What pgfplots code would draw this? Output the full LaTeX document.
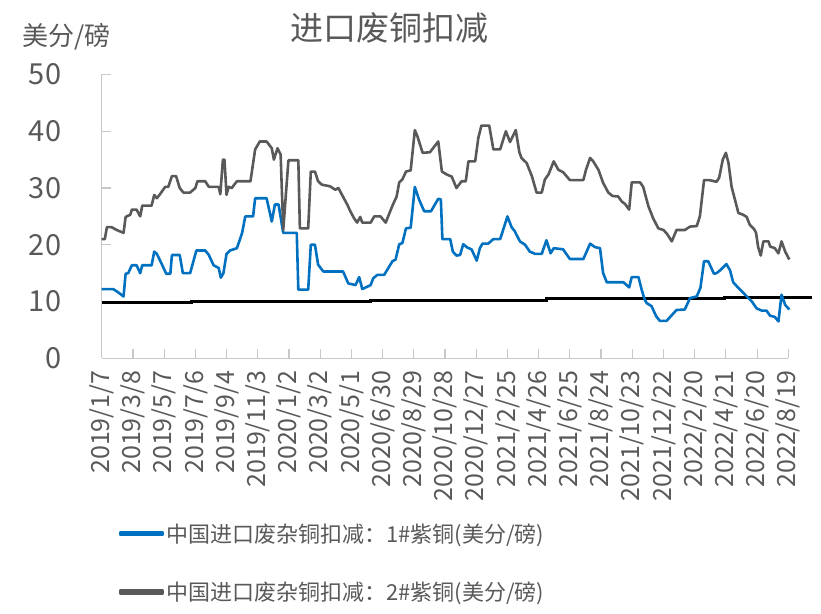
\documentclass[border=0pt]{standalone}
\usepackage{fontspec}
\usepackage{pgfplots}
\pgfplotsset{compat=1.18}
\setmainfont{Noto Sans CJK SC}
\definecolor{txt}{HTML}{595959}
\definecolor{sblue}{HTML}{0070C0}
\definecolor{sgray}{HTML}{595959}
\definecolor{axgray}{HTML}{C8C8C8}
\begin{document}
\begin{tikzpicture}[x=1pt,y=1pt]
\path[use as bounding box] (0,0) rectangle (821,613);
\begin{axis}[
 at={(101.7pt,254.7pt)}, anchor=south west,
 scale only axis, width=686.6pt, height=283.8pt,
 xmin=0, xmax=1320, ymin=0, ymax=50,
 axis x line=bottom, axis y line=left,
 axis line style={axgray, line width=1.2pt, -},
 tick style={axgray, line width=1.2pt}, tick align=inside, major tick length=9pt,
 ytick={0,10,...,50},
 xtick={0,60,...,1320},
 xticklabels={2019/1/7,2019/3/8,2019/5/7,2019/7/6,2019/9/4,2019/11/3,2020/1/2,2020/3/2,2020/5/1,2020/6/30,2020/8/29,2020/10/28,2020/12/27,2021/2/25,2021/4/26,2021/6/25,2021/8/24,2021/10/23,2021/12/22,2022/2/20,2022/4/21,2022/6/20,2022/8/19},
 xticklabel style={rotate=90, anchor=east, font=\fontsize{25}{25}\selectfont, text=txt},
 xticklabel shift=9pt,
 yticklabel style={anchor=east, font=\fontsize{29}{29}\selectfont, text=txt, xshift=-37pt},
 /pgf/number format/assume math mode=true,
 clip=false,
 legend style={at={(axis description cs:0.0245,-0.575)}, anchor=north west, draw=none, fill=none,
   font=\fontsize{22}{22}\selectfont, text=txt, row sep=34pt, inner sep=0pt, nodes={inner sep=2pt}},
 legend cell align=left,
 legend image code/.code={\fill[#1] (0pt,-1.3pt) rectangle (43pt,1.3pt);},
]
\addplot[black, line width=3pt, forget plot] coordinates {
(0,9.8) (173,9.8) (173,10.0) (516,10.0) (516,10.2) (856,10.2) (856,10.5) (1197,10.5) (1197,10.75) (1365,10.75)};
\addplot[sblue, line width=2.6pt, line join=round] coordinates {
(0,12.2) (22,12.2) (32,11.6) (42,10.9) (46,14.9) (51,15.0) (58,16.4) (67,16.4) (74,15.0) (78,16.4) (96,16.4) (101,18.8) (106,18.4) (116,16.5) (124,14.9) (132,14.9) (135,18.2) (150,18.2) (156,15.0) (170,15.0) (182,19.0) (199,19.0) (206,18.2) (215,16.4) (225,15.9) (229,14.2) (234,15.0) (240,18.4) (247,19.0) (260,19.4) (270,22.1) (276,25.0) (291,25.0) (295,28.2) (317,28.2) (327,24.1) (333,27.1) (340,27.1) (349,22.1) (375,22.1) (378,12.1) (397,12.1) (402,20.0) (410,20.0) (416,16.5) (426,15.3) (464,15.3) (474,13.2) (488,12.9) (495,14.3) (501,12.2) (517,12.9) (522,14.1) (530,14.7) (543,14.7) (549,15.6) (559,17.1) (565,17.4) (572,20.1) (578,20.3) (585,22.9) (594,23.0) (602,30.2) (610,28.0) (620,25.9) (633,25.9) (647,28.1) (652,28.0) (655,21.0) (670,21.0) (675,18.8) (682,18.1) (689,18.2) (695,20.1) (703,19.5) (711,19.2) (721,17.2) (727,19.4) (732,20.2) (743,20.2) (753,21.0) (766,21.0) (771,22.4) (780,25.0) (788,23.1) (794,22.4) (804,20.6) (814,20.0) (823,18.8) (833,18.4) (846,18.4) (855,20.8) (863,18.5) (869,19.4) (887,19.2) (900,17.5) (926,17.5) (939,20.2) (948,19.6) (958,19.4) (964,15.0) (971,13.4) (1003,13.4) (1014,12.5) (1019,14.3) (1032,14.3) (1038,12.1) (1044,10.3) (1048,9.7) (1057,9.2) (1066,7.4) (1073,6.6) (1086,6.6) (1096,7.6) (1105,8.5) (1121,8.6) (1131,10.6) (1144,10.9) (1151,12.4) (1158,17.1) (1166,17.1) (1177,14.9) (1182,15.0) (1189,15.5) (1201,16.6) (1208,15.5) (1214,13.4) (1224,12.4) (1237,11.2) (1250,10.0) (1259,8.8) (1269,8.4) (1278,8.4) (1285,7.5) (1294,7.3) (1301,6.5) (1307,11.2) (1314,9.4) (1322,8.6)};
\addlegendentry{中国进口废杂铜扣减：1\#紫铜(美分/磅)}
\addplot[sgray, line width=2.6pt, line join=round] coordinates {
(0,21.0) (6,21.0) (10,23.1) (19,23.1) (29,22.6) (42,22.1) (46,24.9) (55,25.3) (58,26.2) (67,26.2) (74,25.0) (78,26.9) (96,26.9) (101,28.8) (106,28.2) (112,28.9) (122,30.2) (128,30.2) (135,32.1) (143,32.1) (150,30.0) (157,29.2) (170,29.2) (180,30.0) (184,31.2) (199,31.2) (206,30.2) (225,30.2) (228,28.9) (233,35.0) (236,35.0) (240,28.8) (244,30.2) (250,30.0) (260,31.2) (286,31.2) (295,36.8) (304,38.2) (317,38.2) (327,37.0) (331,35.0) (338,37.0) (344,35.9) (349,22.6) (359,34.9) (378,34.9) (381,22.9) (397,22.9) (402,32.9) (410,32.9) (416,31.2) (423,30.6) (439,30.3) (449,29.7) (455,30.0) (462,28.8) (472,27.1) (478,25.9) (485,24.7) (491,23.9) (497,24.9) (501,23.9) (517,23.9) (524,25.0) (536,25.0) (546,23.9) (552,25.3) (559,26.9) (567,28.5) (572,31.0) (578,31.5) (585,32.9) (594,33.1) (602,40.2) (607,39.1) (617,36.2) (631,36.3) (647,38.2) (654,32.9) (663,32.4) (673,32.0) (682,30.0) (692,31.2) (700,31.2) (705,34.7) (718,34.7) (724,38.8) (730,41.0) (745,41.0) (753,36.8) (766,36.8) (777,40.0) (785,38.1) (796,40.2) (803,36.3) (807,35.3) (817,34.4) (827,32.1) (836,29.2) (846,29.2) (852,31.5) (859,32.4) (869,34.7) (878,33.2) (887,32.8) (900,31.4) (926,31.4) (931,33.2) (939,35.3) (945,34.7) (955,33.2) (964,30.9) (974,29.2) (982,28.6) (993,28.5) (1000,27.6) (1006,27.2) (1014,26.2) (1019,31.0) (1035,31.0) (1041,30.2) (1051,26.8) (1060,24.7) (1070,22.9) (1080,22.6) (1087,21.9) (1096,20.6) (1105,22.6) (1121,22.6) (1131,23.2) (1144,23.3) (1150,25.0) (1158,31.4) (1168,31.4) (1182,31.1) (1187,31.8) (1194,35.0) (1200,36.2) (1205,34.4) (1211,30.2) (1219,27.4) (1224,25.6) (1233,25.3) (1240,24.9) (1246,23.5) (1254,22.8) (1258,22.1) (1262,19.6) (1267,18.1) (1272,20.6) (1282,20.6) (1285,19.7) (1294,19.4) (1301,18.5) (1307,20.6) (1314,18.8) (1322,17.4)};
\addlegendentry{中国进口废杂铜扣减：2\#紫铜(美分/磅)}
\end{axis}
\node[font=\fontsize{33}{33}\selectfont, text=txt] at (389,585) {进口废铜扣减};
\node[font=\fontsize{26}{26}\selectfont, text=txt, anchor=west] at (19,576) {美分/磅};
\end{tikzpicture}
\end{document}
